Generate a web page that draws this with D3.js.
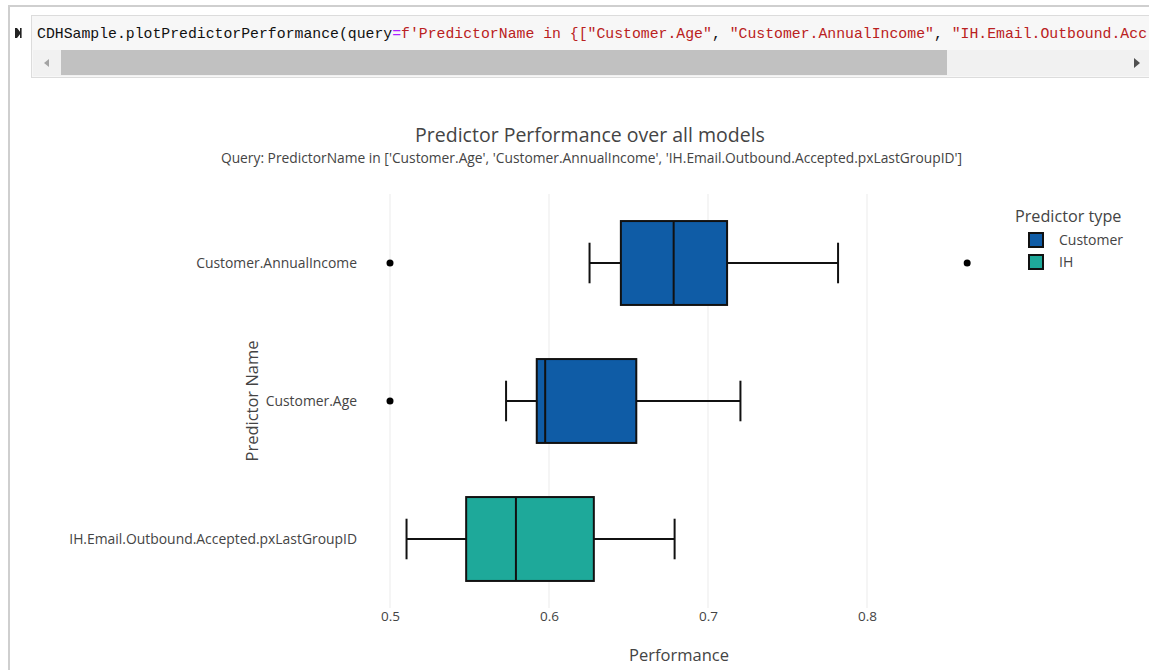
<!DOCTYPE html>
<html>
<head>
<meta charset="utf-8">
<script src="https://cdn.jsdelivr.net/npm/d3@7"></script>
<style>
  html, body { margin: 0; padding: 0; background: #fff; }
  svg { display: block; }
</style>
</head>
<body>
<svg id="chart" width="1149" height="670"></svg>
<script>
// ---------- data ----------
const predictors = ["Customer.AnnualIncome", "Customer.Age", "IH.Email.Outbound.Accepted.pxLastGroupID"];
const predictorTypes = ["Customer", "Customer", "IH"];
const lowerFence = [0.6255, 0.5730, 0.5104];
const q1 = [0.6452, 0.5923, 0.5479];
const median = [0.6784, 0.5976, 0.5792];
const q3 = [0.7120, 0.6549, 0.6282];
const upperFence = [0.7818, 0.7204, 0.6790];
const outliers = [[0.5, 0.863], [0.5], []];
const xTicks = [0.5, 0.6, 0.7, 0.8];
const legendTypes = ["Customer", "IH"];
const titleText = "Predictor Performance over all models";
const subtitleText = "Query: PredictorName in ['Customer.Age', 'Customer.AnnualIncome', 'IH.Email.Outbound.Accepted.pxLastGroupID']";
// visible part of the code line (the cell scrolls horizontally)
const codeParts = [
  ["CDHSample.plotPredictorPerformance(query", "#111"],
  ["=", "#aa22ff"],
  ["f'PredictorName in {[", "#ba2121"],
  ["\"Customer.Age\"", "#ba2121"],
  [", ", "#111"],
  ["\"Customer.AnnualIncome\"", "#ba2121"],
  [", ", "#111"],
  ["\"IH.Email.Outbound.Acc", "#ba2121"]
];

// ---------- styles ----------
const typeColor = { "Customer": "#0f5ca6", "IH": "#1ea99a" };
const font = "'Open Sans', 'Noto Sans', sans-serif";
const textColor = "#444";

const svg = d3.select("#chart");

// ---------- notebook chrome ----------
svg.append("rect").attr("x", 8).attr("y", 5).attr("width", 1141).attr("height", 2).attr("fill", "#cfcfcf");
svg.append("rect").attr("x", 8).attr("y", 5).attr("width", 2).attr("height", 665).attr("fill", "#cfcfcf");

// code cell
svg.append("rect").attr("x", 31.5).attr("y", 15.5).attr("width", 1130).attr("height", 62)
  .attr("fill", "#f7f7f7").attr("stroke", "#dcdcdc");
// run icon
svg.append("rect").attr("x", 15).attr("y", 28).attr("width", 2).attr("height", 10).attr("fill", "#222");
svg.append("path").attr("d", "M17,28 L21,33 L17,38 Z").attr("fill", "#222");
svg.append("rect").attr("x", 20).attr("y", 28).attr("width", 1.6).attr("height", 10).attr("fill", "#222");

const codeText = svg.append("text")
  .attr("x", 37).attr("y", 38)
  .style("font-family", "'Liberation Mono', 'DejaVu Sans Mono', monospace")
  .style("font-size", "14.8px");
codeParts.forEach(([t, c]) => codeText.append("tspan").attr("fill", c).text(t));

// scrollbar
svg.append("rect").attr("x", 33).attr("y", 50).attr("width", 1116).attr("height", 26).attr("fill", "#f1f1f1");
svg.append("path").attr("d", "M44,63 L49,59 L49,67 Z").attr("fill", "#a3a3a3");
svg.append("rect").attr("x", 61).attr("y", 50).attr("width", 886).attr("height", 25).attr("fill", "#c1c1c1");
svg.append("path").attr("d", "M1134,58 L1140,63 L1134,68 Z").attr("fill", "#505050");

// ---------- plot geometry ----------
const plotLeft = 365, plotRight = 995, plotTop = 194, plotBottom = 608;
const x = d3.scaleLinear()
  .domain([0.5 - 25 / 1590, 0.5 + 605 / 1590])
  .range([plotLeft, plotRight]);
const y = d3.scaleBand()
  .domain(predictors)
  .range([plotTop, plotBottom])
  .paddingInner(0).paddingOuter(0);
const boxHalf = y.bandwidth() * 0.304;
const capHalf = y.bandwidth() * 0.147;

// gridlines
svg.append("g").selectAll("line").data(xTicks).join("line")
  .attr("x1", d => x(d)).attr("x2", d => x(d))
  .attr("y1", plotTop).attr("y2", plotBottom)
  .attr("stroke", "#ebebeb").attr("stroke-width", 1);

// x axis (tick labels only)
const xAxis = svg.append("g")
  .attr("transform", `translate(0,${plotBottom})`)
  .call(d3.axisBottom(x).tickValues(xTicks).tickSize(0).tickPadding(3).tickFormat(d3.format(".1f")));
xAxis.select(".domain").remove();
xAxis.selectAll("text").attr("fill", textColor).style("font-family", font).style("font-size", "13.5px");

// y axis (tick labels only)
const yAxis = svg.append("g")
  .attr("transform", `translate(${plotLeft},0)`)
  .call(d3.axisLeft(y).tickSize(0).tickPadding(8));
yAxis.select(".domain").remove();
yAxis.selectAll("text").attr("fill", textColor).style("font-family", font).style("font-size", "13.9px")
  .attr("dy", "0.36em");

// ---------- boxes ----------
const rows = predictors.map((p, i) => ({
  name: p, type: predictorTypes[i], lo: lowerFence[i], q1: q1[i], med: median[i],
  q3: q3[i], hi: upperFence[i], out: outliers[i]
}));

const g = svg.append("g").selectAll("g").data(rows).join("g");
const cy = d => y(d.name) + y.bandwidth() / 2;

// whiskers
g.append("line").attr("x1", d => x(d.lo)).attr("x2", d => x(d.q1))
  .attr("y1", cy).attr("y2", cy).attr("stroke", "#111").attr("stroke-width", 2);
g.append("line").attr("x1", d => x(d.q3)).attr("x2", d => x(d.hi))
  .attr("y1", cy).attr("y2", cy).attr("stroke", "#111").attr("stroke-width", 2);
g.append("line").attr("x1", d => x(d.lo)).attr("x2", d => x(d.lo))
  .attr("y1", d => cy(d) - capHalf).attr("y2", d => cy(d) + capHalf).attr("stroke", "#111").attr("stroke-width", 2);
g.append("line").attr("x1", d => x(d.hi)).attr("x2", d => x(d.hi))
  .attr("y1", d => cy(d) - capHalf).attr("y2", d => cy(d) + capHalf).attr("stroke", "#111").attr("stroke-width", 2);
// box
g.append("rect")
  .attr("x", d => x(d.q1)).attr("width", d => x(d.q3) - x(d.q1))
  .attr("y", d => cy(d) - boxHalf).attr("height", boxHalf * 2)
  .attr("fill", d => typeColor[d.type]).attr("stroke", "#111").attr("stroke-width", 2);
// median
g.append("line").attr("x1", d => x(d.med)).attr("x2", d => x(d.med))
  .attr("y1", d => cy(d) - boxHalf).attr("y2", d => cy(d) + boxHalf).attr("stroke", "#111").attr("stroke-width", 2);
// outliers
g.selectAll("circle").data(d => d.out.map(v => ({ v, c: cy(d) }))).join("circle")
  .attr("cx", d => x(d.v)).attr("cy", d => d.c).attr("r", 3.5).attr("fill", "#000");

// ---------- titles ----------
const midX = 590;
svg.append("text").attr("x", midX).attr("y", 142).attr("text-anchor", "middle")
  .attr("fill", textColor).style("font-family", font).style("font-size", "19.5px").text(titleText);
svg.append("text").attr("x", midX + 1.5).attr("y", 162.5).attr("text-anchor", "middle")
  .attr("fill", textColor).style("font-family", font).style("font-size", "13.8px").text(subtitleText);

svg.append("text").attr("x", (plotLeft + plotRight) / 2 - 1).attr("y", 661).attr("text-anchor", "middle")
  .attr("fill", textColor).style("font-family", font).style("font-size", "16.5px").text("Performance");
svg.append("text").attr("transform", `translate(258,${(plotTop + plotBottom) / 2}) rotate(-90)`)
  .attr("text-anchor", "middle")
  .attr("fill", textColor).style("font-family", font).style("font-size", "16.5px").text("Predictor Name");

// ---------- legend ----------
svg.append("text").attr("x", 1015).attr("y", 222)
  .attr("fill", textColor).style("font-family", font).style("font-size", "16.2px").text("Predictor type");
const leg = svg.append("g").selectAll("g").data(legendTypes).join("g")
  .attr("transform", (d, i) => `translate(0,${240 + i * 22})`);
leg.append("rect").attr("x", 1029).attr("y", -7).attr("width", 14).attr("height", 14)
  .attr("fill", d => typeColor[d]).attr("stroke", "#111").attr("stroke-width", 2);
leg.append("text").attr("x", 1059).attr("y", 5)
  .attr("fill", textColor).style("font-family", font).style("font-size", "14px").text(d => d);
</script>
</body>
</html>
